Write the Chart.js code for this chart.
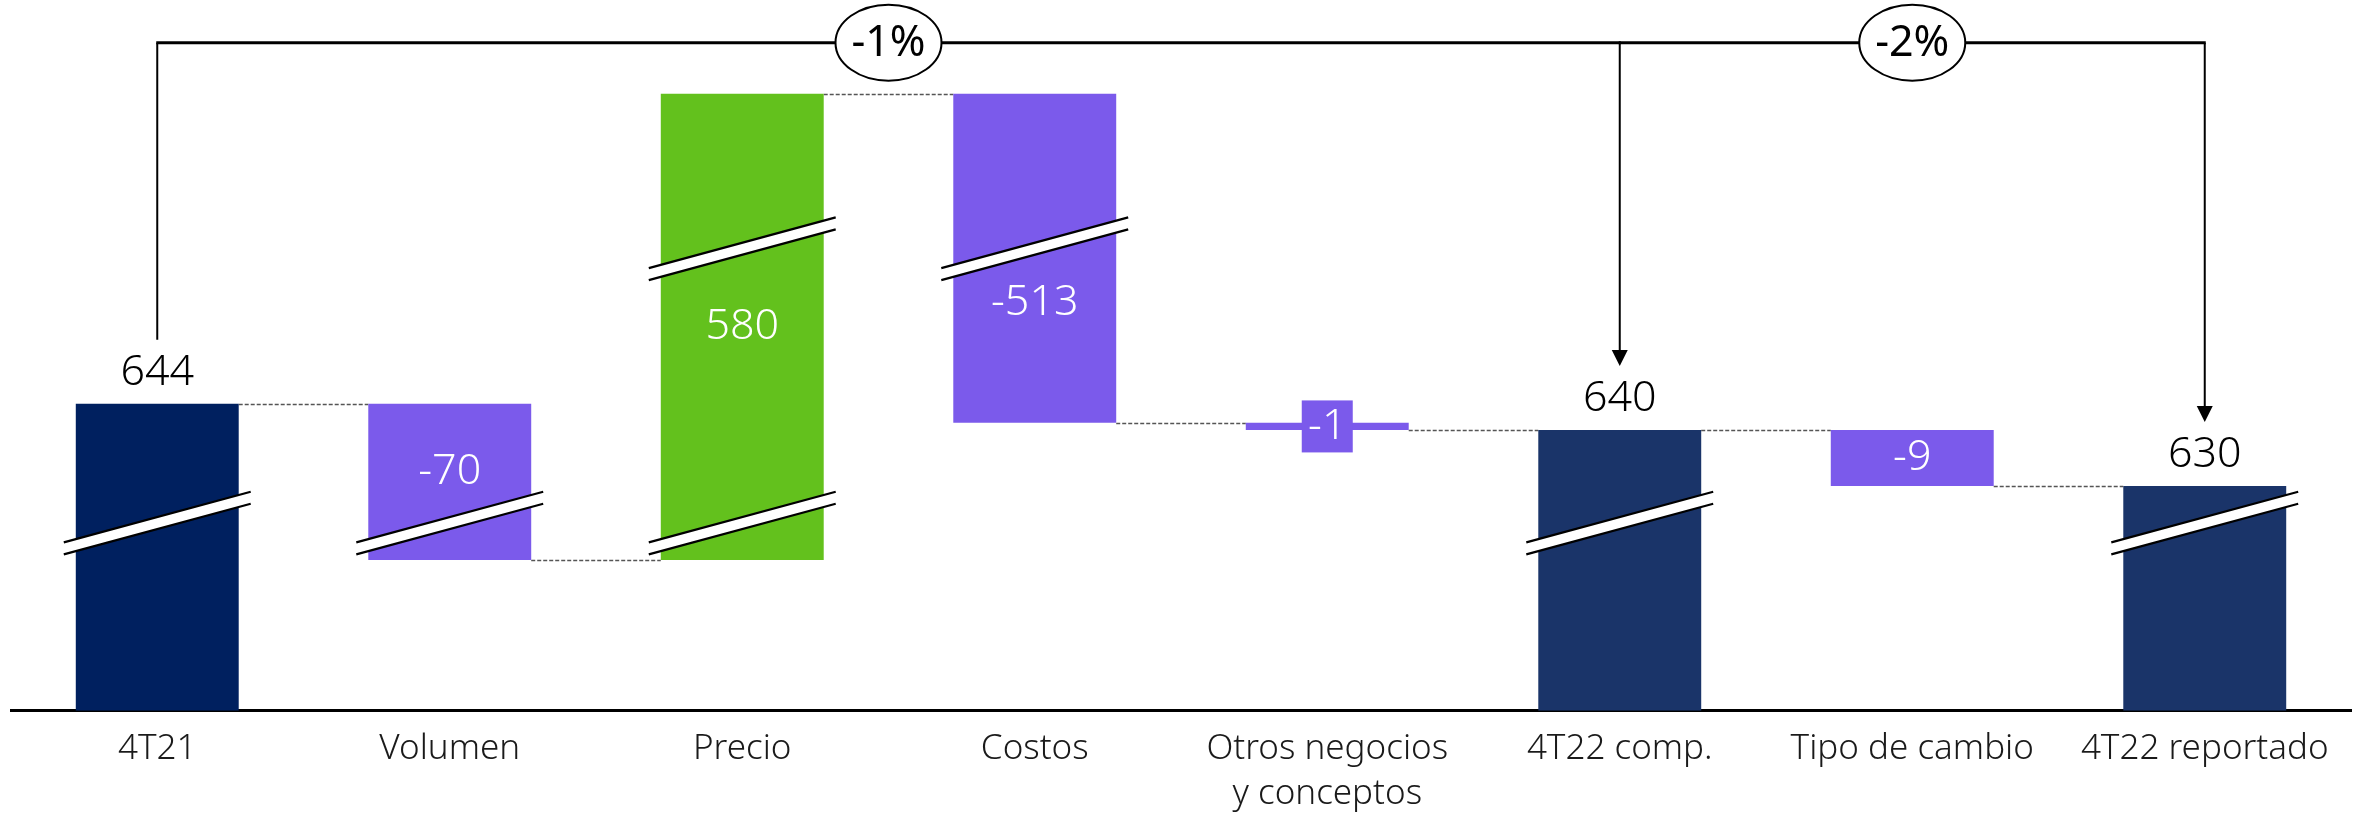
<!DOCTYPE html>
<html>
<head>
<meta charset="utf-8">
<script src="https://cdn.jsdelivr.net/npm/chart.js@4.4.1/dist/chart.umd.min.js"></script>
<style>
  html, body { margin: 0; padding: 0; background: #fff; }
  #wrap { width: 2359px; height: 817px; }
</style>
</head>
<body>
<div id="wrap"><canvas id="chart" width="2359" height="817"></canvas></div>
<script>
// Categories and reported values (millions)
const categories = [['4T21'], ['Volumen'], ['Precio'], ['Costos'], ['Otros negocios', 'y conceptos'], ['4T22 comp.'], ['Tipo de cambio'], ['4T22 reportado']];
const values = [644, -70, 580, -513, -1, 640, -9, 630];
const isTotal = [true, false, false, false, false, true, false, true];

// The axis is broken, so bars are not to scale: lengths as drawn, in chart units (0-100)
const drawnLength = [43.2, -22.0, 65.6, -46.3, -1.0, 39.5, -7.9, 31.6];
// Break marks on each bar, chart units
const breakMarks = [[26.4], [26.4], [26.4, 65.0], [65.0], [], [26.4], [], [26.4]];

// Growth brackets over the chart
const bracketFrom = [0, 5];
const bracketTo = [5, 7];
const bracketText = ['-1%', '-2%'];

// Build floating bars like a waterfall
const ranges = [];
let level = 0;
drawnLength.forEach((len, i) => {
    if (isTotal[i]) {
        ranges.push([0, len]);
        level = len;
    } else {
        ranges.push([level, level + len]);
        level += len;
    }
});

const colorFor = (i) => {
    if (isTotal[i]) return i === 0 ? '#00205F' : '#1A3469';
    return values[i] > 0 ? '#63C11D' : '#7B5AEB';
};

const FONT = "'Noto Sans', sans-serif";

// Where the labels go inside the broken bars (chart units), null = middle of the bar
const insideLabelAt = [null, 33.6, 54.0, 57.4, null, null, null, null];

const waterfallExtras = {
    id: 'waterfallExtras',
    beforeDatasetsDraw(chart) {
        const ctx = chart.ctx;
        const meta = chart.getDatasetMeta(0);
        const y = chart.scales.y;
        // dashed connectors
        ctx.save();
        ctx.strokeStyle = '#555';
        ctx.lineWidth = 1.5;
        ctx.setLineDash([4, 2]);
        for (let i = 0; i < ranges.length - 1; i++) {
            const a = meta.data[i], b = meta.data[i + 1];
            const py = Math.round(y.getPixelForValue(ranges[i][1])) + 0.5;
            ctx.beginPath();
            ctx.moveTo(a.x + a.width / 2, py);
            ctx.lineTo(b.x - b.width / 2, py);
            ctx.stroke();
        }
        ctx.restore();
    },
    afterDatasetsDraw(chart) {
        const ctx = chart.ctx;
        const meta = chart.getDatasetMeta(0);
        const y = chart.scales.y;

        // break marks
        const slope = 0.271, gap = 6;
        breakMarks.forEach((marks, i) => {
            const bar = meta.data[i];
            const hw = bar.width / 2 + 12;
            marks.forEach(m => {
                const cx = bar.x, cy = y.getPixelForValue(m);
                const x0 = cx - hw, x1 = cx + hw;
                const y0 = cy + hw * slope, y1 = cy - hw * slope;
                ctx.save();
                ctx.fillStyle = '#fff';
                ctx.beginPath();
                ctx.moveTo(x0, y0 - gap);
                ctx.lineTo(x1, y1 - gap);
                ctx.lineTo(x1, y1 + gap);
                ctx.lineTo(x0, y0 + gap);
                ctx.closePath();
                ctx.fill();
                ctx.strokeStyle = '#000';
                ctx.lineWidth = 2.2;
                ctx.beginPath();
                ctx.moveTo(x0, y0 - gap);
                ctx.lineTo(x1, y1 - gap);
                ctx.moveTo(x0, y0 + gap);
                ctx.lineTo(x1, y1 + gap);
                ctx.stroke();
                ctx.restore();
            });
        });

        // value labels
        ctx.save();
        ctx.textAlign = 'center';
        ctx.textBaseline = 'middle';
        ctx.font = '300 43px ' + FONT;
        values.forEach((v, i) => {
            const bar = meta.data[i];
            const top = Math.min(bar.y, bar.base);
            const bottom = Math.max(bar.y, bar.base);
            if (isTotal[i]) {
                ctx.fillStyle = '#000';
                ctx.fillText(String(v), bar.x, top - 31);
                return;
            }
            let ly = insideLabelAt[i] !== null ? y.getPixelForValue(insideLabelAt[i]) : (top + bottom) / 2;
            if (bottom - top < 40) {
                // thin bar: put a small box behind the label
                ctx.fillStyle = colorFor(i);
                ctx.fillRect(bar.x - 25.5, ly - 26, 51, 52);
            }
            ctx.fillStyle = '#fff';
            ctx.fillText(String(v), bar.x, ly);
        });
        ctx.restore();

        // growth brackets
        const lineY = y.getPixelForValue(94);
        const endY = (i) => Math.min(meta.data[i].y, meta.data[i].base) - 64;
        ctx.save();
        ctx.strokeStyle = '#000';
        ctx.fillStyle = '#000';
        bracketText.forEach((t, k) => {
            const xa = meta.data[bracketFrom[k]].x;
            const xb = meta.data[bracketTo[k]].x;
            ctx.lineWidth = 3;
            ctx.beginPath();
            ctx.moveTo(xa - 1, lineY);
            ctx.lineTo(xb + 1, lineY);
            ctx.stroke();
            ctx.lineWidth = 2;
            if (!bracketTo.includes(bracketFrom[k])) {
                ctx.beginPath();
                ctx.moveTo(xa, lineY);
                ctx.lineTo(xa, endY(bracketFrom[k]));
                ctx.stroke();
            }
            const tip = endY(bracketTo[k]);
            ctx.beginPath();
            ctx.moveTo(xb, lineY);
            ctx.lineTo(xb, tip - 12);
            ctx.stroke();
            ctx.beginPath();
            ctx.moveTo(xb, tip);
            ctx.lineTo(xb - 8, tip - 16);
            ctx.lineTo(xb + 8, tip - 16);
            ctx.closePath();
            ctx.fill();
        });
        bracketText.forEach((t, k) => {
            const cx = (meta.data[bracketFrom[k]].x + meta.data[bracketTo[k]].x) / 2;
            ctx.beginPath();
            ctx.ellipse(cx, lineY, 53, 38, 0, 0, Math.PI * 2);
            ctx.fillStyle = '#fff';
            ctx.fill();
            ctx.lineWidth = 2;
            ctx.stroke();
            ctx.fillStyle = '#000';
            ctx.font = '400 43px ' + FONT;
            ctx.textAlign = 'center';
            ctx.textBaseline = 'middle';
            ctx.fillText(t, cx, lineY + 1);
        });
        ctx.restore();
    }
};

new Chart(document.getElementById('chart'), {
    type: 'bar',
    data: {
        labels: categories,
        datasets: [{
            data: ranges,
            backgroundColor: ranges.map((r, i) => colorFor(i)),
            borderWidth: 0,
            barPercentage: 0.557,
            categoryPercentage: 1
        }]
    },
    options: {
        responsive: false,
        animation: false,
        layout: {
            padding: { left: 11, right: 8, top: 0, bottom: -16 }
        },
        plugins: {
            legend: { display: false },
            tooltip: { enabled: false }
        },
        scales: {
            x: {
                grid: { display: false, drawTicks: false },
                border: { display: true, color: '#000', width: 3 },
                ticks: {
                    color: '#1a1a1a',
                    padding: 16,
                    font: { family: FONT, size: 35, weight: 300, lineHeight: 1.29 }
                }
            },
            y: {
                display: false,
                min: 0,
                max: 100
            }
        }
    },
    plugins: [waterfallExtras]
});
</script>
</body>
</html>
